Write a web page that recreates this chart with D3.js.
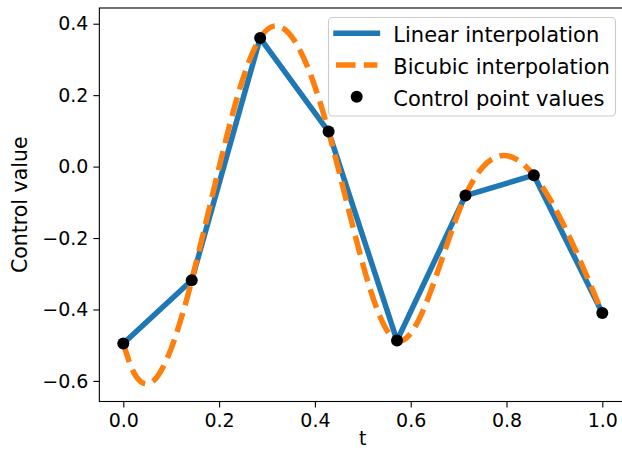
<!DOCTYPE html>
<html>
<head>
<meta charset="utf-8">
<script src="https://cdn.jsdelivr.net/npm/d3@7"></script>
<style>
  html, body { margin: 0; padding: 0; background: #fff; }
  svg { display: block; font-family: "DejaVu Sans", sans-serif; }
</style>
</head>
<body>
<svg id="chart" width="622" height="450"></svg>
<script>
// Control points (t, value)
const controlT = [0, 0.1429, 0.2857, 0.4286, 0.5714, 0.7143, 0.8571, 1.0];
const controlValues = [-0.495, -0.318, 0.360, 0.098, -0.487, -0.081, -0.024, -0.410];

// Bicubic curve sampled along t
const bicubicT = [0, 0.0179, 0.0357, 0.0536, 0.0714, 0.0893, 0.1071, 0.125, 0.1429,
  0.1786, 0.2143, 0.25, 0.2857, 0.3214, 0.3571, 0.3929, 0.4286, 0.4643, 0.5, 0.5357,
  0.5714, 0.6071, 0.6429, 0.6786, 0.7143, 0.75, 0.7857, 0.8214, 0.8571, 0.8929,
  0.9286, 0.9643, 1.0];
const bicubicValues = [-0.495, -0.565, -0.601, -0.607, -0.587, -0.544, -0.483, -0.406, -0.318,
  -0.122, 0.076, 0.247, 0.360, 0.394, 0.353, 0.251, 0.098, -0.088, -0.273, -0.419,
  -0.487, -0.453, -0.345, -0.207, -0.081, -0.002, 0.030, 0.020, -0.024, -0.096,
  -0.189, -0.296, -0.410];

const xTicks = [0.0, 0.2, 0.4, 0.6, 0.8, 1.0];
const yTicks = [-0.6, -0.4, -0.2, 0.0, 0.2, 0.4];
const seriesLabels = ["Linear interpolation", "Bicubic interpolation", "Control point values"];

const BLUE = "#1f77b4", ORANGE = "#ff7f0e";

const svg = d3.select("#chart");

const x = d3.scaleLinear().domain([-0.05, 1.05]).range([99.35, 626.25]);
const y = d3.scaleLinear().domain([-0.6576, 0.4440]).range([401.5, 8]);

const fmt = d3.format(".1f");

// Axes
const xAxis = d3.axisBottom(x).tickValues(xTicks).tickFormat(fmt).tickSize(6).tickPadding(6);
const yAxis = d3.axisLeft(y).tickValues(yTicks).tickFormat(fmt).tickSize(6).tickPadding(5);

const gx = svg.append("g").attr("transform", `translate(0,${y.range()[0]})`).call(xAxis);
const gy = svg.append("g").attr("transform", `translate(${x.range()[0]},0)`).call(yAxis);
[gx, gy].forEach(g => {
  g.select(".domain").remove();
  g.selectAll(".tick line").attr("stroke", "#000").attr("stroke-width", 1.1);
  g.selectAll(".tick text").attr("fill", "#000").style("font-family", "DejaVu Sans")
    .style("font-size", "19px");
});

// Frame (top, left, bottom spines; right spine lies past the edge)
const [x0, x1] = x.range();
const [yb, yt] = y.range();
svg.append("rect")
  .attr("x", x0).attr("y", yt).attr("width", x1 - x0).attr("height", yb - yt)
  .attr("fill", "none").attr("stroke", "#000").attr("stroke-width", 1.1);

const plot = svg.append("g");

const linear = d3.line().x((d, i) => x(controlT[i])).y(d => y(d));
plot.append("path")
  .datum(controlValues)
  .attr("d", linear)
  .attr("fill", "none").attr("stroke", BLUE).attr("stroke-width", 5.5)
  .attr("stroke-linejoin", "round");

const smooth = d3.line().x((d, i) => x(bicubicT[i])).y(d => y(d)).curve(d3.curveNatural);
plot.append("path")
  .datum(bicubicValues)
  .attr("d", smooth)
  .attr("fill", "none").attr("stroke", ORANGE).attr("stroke-width", 5.5)
  .attr("stroke-dasharray", "19.5,8.3");

plot.selectAll("circle.pt")
  .data(controlValues)
  .join("circle")
  .attr("class", "pt")
  .attr("cx", (d, i) => x(controlT[i]))
  .attr("cy", d => y(d))
  .attr("r", 6)
  .attr("fill", "#000");

// Axis labels
svg.append("text")
  .attr("x", (x0 + x1) / 2).attr("y", 445)
  .attr("text-anchor", "middle")
  .style("font-size", "19px").attr("fill", "#000")
  .text("t");

svg.append("text")
  .attr("transform", `translate(27,${(yt + yb) / 2}) rotate(-90)`)
  .attr("text-anchor", "middle")
  .style("font-size", "20.5px").attr("fill", "#000")
  .text("Control value");

// Legend
const legend = svg.append("g");
legend.append("rect")
  .attr("x", 328.5).attr("y", 17.5).attr("width", 287).attr("height", 98.5)
  .attr("rx", 4).attr("ry", 4)
  .attr("fill", "#fff").attr("fill-opacity", 0.8)
  .attr("stroke", "#cccccc").attr("stroke-width", 1.1);

const rowY = [33.3, 65, 96.7];
const hx0 = 336, hx1 = 377.4;
legend.append("line")
  .attr("x1", hx0).attr("x2", hx1).attr("y1", rowY[0]).attr("y2", rowY[0])
  .attr("stroke", BLUE).attr("stroke-width", 5.5).attr("stroke-linecap", "square");
legend.append("line")
  .attr("x1", hx0).attr("x2", hx1).attr("y1", rowY[1]).attr("y2", rowY[1])
  .attr("stroke", ORANGE).attr("stroke-width", 5.5).attr("stroke-dasharray", "19.5,8.3");
legend.append("circle")
  .attr("cx", (hx0 + hx1) / 2).attr("cy", rowY[2]).attr("r", 6).attr("fill", "#000");

legend.selectAll("text.lbl")
  .data(seriesLabels)
  .join("text")
  .attr("class", "lbl")
  .attr("x", 393.3)
  .attr("y", (d, i) => rowY[i] + 9)
  .style("font-size", "21px").attr("fill", "#000")
  .text(d => d);
</script>
</body>
</html>
